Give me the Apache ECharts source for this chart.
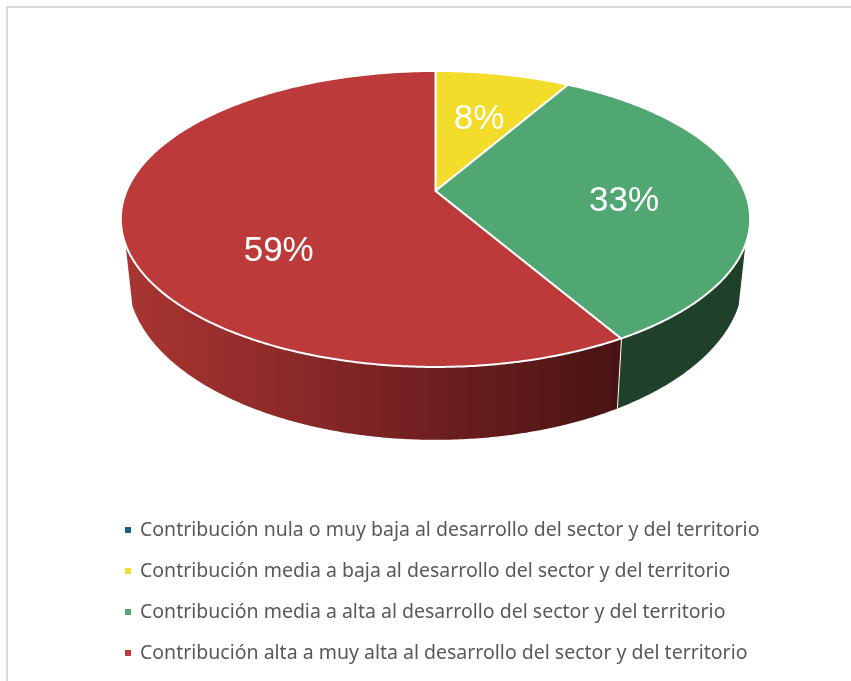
<!DOCTYPE html>
<html>
<head>
<meta charset="utf-8">
<style>html,body{margin:0;padding:0;background:#fff}#c{width:851px;height:681px}</style>
<script src="https://cdn.jsdelivr.net/npm/echarts@6/dist/echarts.min.js"></script>
</head>
<body>
<div id="c"></div>
<script>
const categories = [
  'Contribución nula o muy baja al desarrollo del sector y del territorio',
  'Contribución media a baja al desarrollo del sector y del territorio',
  'Contribución media a alta al desarrollo del sector y del territorio',
  'Contribución alta a muy alta al desarrollo del sector y del territorio'
];
const values = [0, 8, 33, 59];

const colors = ['#156082', '#F4DC2A', '#50A772', '#BC3A39'];
const total = values.reduce((a, b) => a + b, 0);

// perspective projection of the pie disc
const P = { cx: 435.5, cy: 191, a: 309, b: 142.7, k: -0.189, warp: 2.3,
            lowX: 0.978, lowY: 1.096, lowDy: 56, wallFrom: 110.5, wallTo: 249.5 };
const rad = d => d * Math.PI / 180;
const warp = d => d + P.warp * Math.sqrt(Math.max(0, Math.sin(rad(d / 2))));
function project(deg, r, lower) {
  const u = r * Math.sin(rad(deg)), v = -r * Math.cos(rad(deg));
  const d = 1 + P.k * v;
  const X = P.a * u / d, Y = P.b * v / d;
  return lower ? [P.cx + P.lowX * X, P.cy + P.lowDy + P.lowY * Y] : [P.cx + X, P.cy + Y];
}
function arc(from, to, lower) {
  const pts = [], n = Math.max(2, Math.ceil((to - from) * 2));
  for (let i = 0; i <= n; i++) pts.push(project(from + (to - from) * i / n, 1, lower));
  return pts;
}
const wallFill = [
  null,
  null,
  '#204129',
  new echarts.graphic.LinearGradient(125, 0, 615, 0, [
    { offset: 0, color: '#A93532' }, { offset: 0.3, color: '#8F2B2A' },
    { offset: 0.5, color: '#7D2324' }, { offset: 0.75, color: '#631B1B' },
    { offset: 1, color: '#4A1313' }
  ], true)
];
const labelNudge = [[0, 1], [-1, 5], [-3, 10], [34, 37]];

function renderSlice(idx) {
  return function (params, api) {
    const value = api.value(0);
    if (!value) return { type: 'group', children: [] };
    let before = 0;
    for (let i = 0; i < idx; i++) before += values[i];
    const a0 = warp(before / total * 360), a1 = warp((before + value) / total * 360);
    const children = [];
    const w0 = Math.max(a0, P.wallFrom), w1 = Math.min(a1, P.wallTo);
    if (w1 > w0 && wallFill[idx]) {
      children.push({
        type: 'polygon',
        shape: { points: arc(w0, w1, false).concat(arc(w0, w1, true).reverse()) },
        style: { fill: wallFill[idx], stroke: null }
      });
      if (a1 < P.wallTo) {
        const t = project(a1, 1, false), l = project(a1, 1, true);
        children.push({ type: 'line', shape: { x1: t[0], y1: t[1], x2: l[0], y2: l[1] },
          style: { stroke: '#fff', lineWidth: 2 } });
      }
    }
    children.push({
      type: 'polygon',
      shape: { points: [[P.cx, P.cy]].concat(arc(a0, a1, false)) },
      style: { fill: colors[idx], stroke: '#fff', lineWidth: 2, lineJoin: 'round' }
    });
    const mid = project((a0 + a1) / 2, 0.62, false), n = labelNudge[idx];
    children.push({
      type: 'text',
      x: mid[0] + n[0], y: mid[1] + n[1],
      style: { text: Math.round(value / total * 100) + '%', fill: '#fff',
        font: '35px "Liberation Sans", Arial, sans-serif', align: 'center', verticalAlign: 'middle' }
    });
    return { type: 'group', children };
  };
}

const chart = echarts.init(document.getElementById('c'), null, { renderer: 'canvas' });
chart.setOption({
  animation: false,
  backgroundColor: '#fff',
  graphic: [{ type: 'rect', silent: true, shape: { x: 7, y: 7, width: 1000, height: 1000 },
    style: { fill: 'none', stroke: '#D9D9D9', lineWidth: 2 } }],
  legend: {
    orient: 'vertical', left: 120, top: 514, icon: 'rect',
    itemWidth: 6, itemHeight: 6, itemGap: 19, selectedMode: false,
    data: categories,
    textStyle: { color: '#595959', fontFamily: '"Noto Sans"', fontSize: 19.5, lineHeight: 22, padding: [0, 0, 0, 4] }
  },
  series: categories.map((name, i) => ({
    type: 'custom', name, coordinateSystem: 'none', silent: true,
    itemStyle: { color: colors[i] },
    data: [[values[i]]],
    renderItem: renderSlice(i)
  }))
});
</script>
</body>
</html>
